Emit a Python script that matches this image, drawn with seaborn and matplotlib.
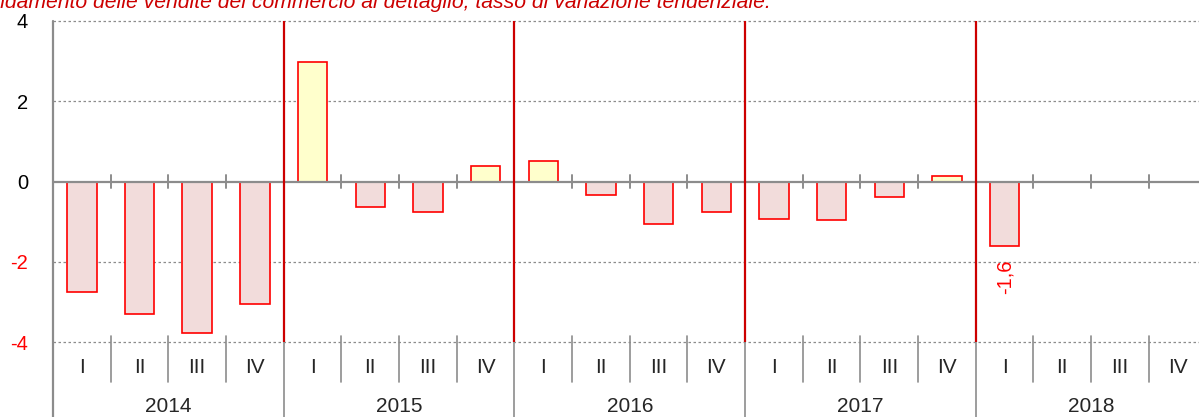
# plot.py
# Retail sales, year-on-year change by quarter (2014-2018)

import numpy as np
import pandas as pd
import matplotlib
matplotlib.use("Agg")
import matplotlib.pyplot as plt
import seaborn as sns

# ── Data ─────────────────────────────────────────────────────────────────────
YEARS    = ["2014", "2015", "2016", "2017", "2018"]
QUARTERS = ["I", "II", "III", "IV"]
VALUES   = [-2.76, -3.29, -3.77, -3.04,
             2.97, -0.64, -0.75,  0.40,
             0.52, -0.34, -1.05, -0.75,
            -0.93, -0.95, -0.39,  0.13,
            -1.59, np.nan, np.nan, np.nan]
YTICKS   = [4, 2, 0, -2, -4]
LABELLED = "2018 I"
TITLE = "Andamento delle vendite del commercio al dettaglio, tasso di variazione tendenziale."

# ── Style ────────────────────────────────────────────────────────────────────
RED      = "#ff0000"
DARKRED  = "#cc0000"
GREY     = "#8c8c8c"
POS_FILL = "#ffffcc"
NEG_FILL = "#f2dcdb"

sns.set_style("white")
plt.rcParams["font.family"] = ["Liberation Sans", "DejaVu Sans"]
plt.rcParams["axes.unicode_minus"] = False

cats = [f"{y} {q}" for y in YEARS for q in QUARTERS]
df = pd.DataFrame({"period": cats, "value": VALUES})
df["sign"] = np.where(df["value"] > 0, "pos", "neg")

W, H = 1199, 417
fig = plt.figure(figsize=(W / 100, H / 100), dpi=100)
ax = fig.add_axes([53 / W, (H - 342.3) / H, 1153.5 / W, 321.3 / H])

sns.barplot(data=df, x="period", y="value", hue="sign", order=cats,
            palette={"pos": POS_FILL, "neg": NEG_FILL}, dodge=False,
            width=0.51, saturation=1, edgecolor=RED, linewidth=1.2,
            legend=False, ax=ax, zorder=3)

n = len(cats)
ax.set_xlim(-0.5, n - 0.5)
ax.set_ylim(-4, 4)
ax.set_xlabel("")
ax.set_ylabel("")
ax.set_xticks([])
for s in ["top", "right", "bottom", "left"]:
    ax.spines[s].set_visible(False)

# grid + zero line
for yv in [4, 2, -2, -4]:
    ax.axhline(yv, color=GREY, lw=0.9, ls=(0, (2, 2)), zorder=1, clip_on=False)
ax.axhline(0, color=GREY, lw=1.6, zorder=4)

# y axis
ax.set_yticks(YTICKS)
ax.set_yticklabels([str(v) for v in YTICKS])
ax.tick_params(axis="y", length=7, width=1.2, color=GREY, pad=11, labelsize=14.5)
for lbl, yv in zip(ax.get_yticklabels(), YTICKS):
    lbl.set_color(RED if yv < 0 else "black")

bottom = -4 - (H - 342.3) / 40.17
ax.plot([-0.5, -0.5], [4, bottom], color=GREY, lw=1.6, clip_on=False, zorder=5)

# quarter / year separators
for i in range(1, n + 1):
    xb = i - 0.5
    ax.plot([xb, xb], [-0.16, 0.16], color=GREY, lw=1.4, zorder=4, clip_on=False)
    lo = bottom if i % 4 == 0 else -4.98
    ax.plot([xb, xb], [-3.85, lo], color=GREY, lw=1.2, clip_on=False, zorder=2)

for i in range(4, n, 4):
    ax.axvline(i - 0.5, ymin=0, ymax=1, color=DARKRED, lw=1.6, zorder=5)

# category labels
for i, c in enumerate(cats):
    ax.text(i, -4.63, c.split()[1], ha="center", va="center", fontsize=15,
            clip_on=False)
for j, y in enumerate(YEARS):
    ax.text(4 * j + 1.5, -5.6, y, ha="center", va="center", fontsize=15,
            clip_on=False)

# value label
k = cats.index(LABELLED)
ax.annotate(f"{VALUES[k]:.1f}".replace(".", ","), xy=(k, VALUES[k]),
            xytext=(0, -10), textcoords="offset points", rotation=90,
            ha="center", va="top", color=RED, fontsize=14.5)

fig.text(771 / W, 1 - 8 / H, TITLE, ha="right", va="baseline",
         color=DARKRED, fontsize=15.2, style="italic")

fig.savefig("out.png", dpi=100)
